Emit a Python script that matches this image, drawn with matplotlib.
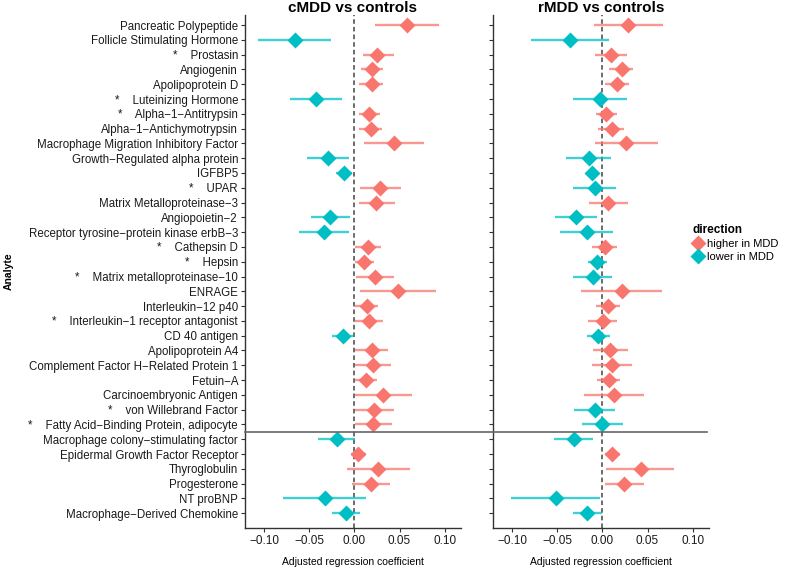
import numpy as np
import matplotlib
matplotlib.use('Agg')
import matplotlib.pyplot as plt
from matplotlib.lines import Line2D

plt.rcParams['font.family'] = ['Liberation Sans', 'DejaVu Sans']

# Analytes, top to bottom
analytes = [
    'Pancreatic Polypeptide', 'Follicle Stimulating Hormone', '*    Prostasin',
    'Angiogenin', 'Apolipoprotein D', '*    Luteinizing Hormone',
    '*    Alpha\u22121\u2212Antitrypsin', 'Alpha\u22121\u2212Antichymotrypsin',
    'Macrophage Migration Inhibitory Factor', 'Growth\u2212Regulated alpha protein',
    'IGFBP5', '*    UPAR', 'Matrix Metalloproteinase\u22123', 'Angiopoietin\u22122',
    'Receptor tyrosine\u2212protein kinase erbB\u22123', '*    Cathepsin D',
    '*    Hepsin', '*    Matrix metalloproteinase\u221210', 'ENRAGE',
    'Interleukin\u221212 p40', '*    Interleukin\u22121 receptor antagonist',
    'CD 40 antigen', 'Apolipoprotein A4', 'Complement Factor H\u2212Related Protein 1',
    'Fetuin\u2212A', 'Carcinoembryonic Antigen', '*    von Willebrand Factor',
    '*    Fatty Acid\u2212Binding Protein, adipocyte',
    'Macrophage colony\u2212stimulating factor', 'Epidermal Growth Factor Receptor',
    'Thyroglobulin', 'Progesterone', 'NT proBNP', 'Macrophage\u2212Derived Chemokine',
]

# cMDD vs controls: estimate, lower, upper
c_est = [0.058, -0.066, 0.0255, 0.019, 0.019, -0.042, 0.0165, 0.018, 0.044, -0.0296,
         -0.011, 0.0285, 0.024, -0.0266, -0.0333, 0.0146, 0.011, 0.0228, 0.048, 0.0135,
         0.0165, -0.0127, 0.019, 0.021, 0.0124, 0.032, 0.0217, 0.021, -0.019, 0.004,
         0.0266, 0.0184, -0.0326, -0.009]
c_lo = [0.023, -0.107, 0.0097, 0.007, 0.005, -0.0715, 0.005, 0.005, 0.011, -0.052,
        -0.020, 0.006, 0.005, -0.048, -0.061, 0.001, 0.001, 0.002, 0.006, 0.001,
        0.001, -0.025, 0.001, 0.001, 0.001, 0.001, 0.001, 0.001, -0.040, -0.004,
        -0.008, -0.0026, -0.079, -0.0247]
c_hi = [0.094, -0.026, 0.0435, 0.032, 0.032, -0.014, 0.028, 0.031, 0.0775, -0.0064,
        -0.0026, 0.0517, 0.0453, -0.0052, -0.006, 0.029, 0.0217, 0.0435, 0.090, 0.0266,
        0.032, 0.0, 0.037, 0.041, 0.0247, 0.064, 0.044, 0.0416, 0.0004, 0.0124,
        0.062, 0.039, 0.0127, 0.0067]

# rMDD vs controls: estimate, lower, upper
r_est = [0.0287, -0.036, 0.0093, 0.0212, 0.016, -0.0026, 0.0045, 0.0104, 0.026, -0.0149,
         -0.011, -0.0086, 0.0067, -0.029, -0.0168, 0.0026, -0.0056, -0.0104, 0.0212, 0.0067,
         0.0005, -0.0048, 0.0086, 0.0104, 0.0074, 0.013, -0.0086, -0.0007, -0.0317, 0.0112,
         0.0428, 0.024, -0.051, -0.0168]
r_lo = [-0.0093, -0.079, -0.0086, 0.0074, 0.0026, -0.0328, -0.0074, -0.0045, -0.0086, -0.040,
        -0.016, -0.0328, -0.0149, -0.052, -0.0466, -0.012, -0.016, -0.0328, -0.0235, -0.0074,
        -0.016, -0.0168, -0.0104, -0.012, -0.0056, -0.0205, -0.031, -0.0223, -0.053, 0.0026,
        0.0045, 0.0026, -0.1006, -0.0328]
r_hi = [0.067, 0.0074, 0.027, 0.034, 0.029, 0.027, 0.016, 0.024, 0.0615, 0.010,
        -0.0056, 0.0156, 0.028, -0.0063, 0.0123, 0.016, 0.0056, 0.0112, 0.066, 0.0197,
        0.016, 0.0082, 0.028, 0.0324, 0.0197, 0.0466, 0.0142, 0.0223, -0.0104, 0.0197,
        0.079, 0.0466, -0.0026, 0.0]

titles = ['cMDD vs controls', 'rMDD vs controls']
xticks = [-0.10, -0.05, 0.00, 0.05, 0.10]
xtick_labels = ['\u22120.10', '\u22120.05', '0.00', '0.05', '0.10']

col_hi = '#F8766D'
col_lo = '#00BFC4'
W, H = 786, 571

fig = plt.figure(figsize=(W / 100, H / 100), dpi=100, facecolor='w')
top_px, bot_px, pw = 15, 528, 216
ax1 = fig.add_axes([245 / W, 1 - bot_px / H, pw / W, (bot_px - top_px) / H])
ax2 = fig.add_axes([493 / W, 1 - bot_px / H, pw / W, (bot_px - top_px) / H])

y = np.arange(len(analytes))
for ax, est, lo, hi, title in [(ax1, c_est, c_lo, c_hi, titles[0]),
                               (ax2, r_est, r_lo, r_hi, titles[1])]:
    est = np.array(est)
    ax.axvline(0, color='#444444', ls=(0, (3, 2)), lw=1.1, zorder=1)
    for i in range(len(est)):
        c = col_hi if est[i] >= 0 else col_lo
        ax.plot([lo[i], hi[i]], [y[i], y[i]], color=c, lw=1.7, alpha=0.75,
                solid_capstyle='butt', zorder=2)
        ax.plot(est[i], y[i], marker='D', ms=8.5, color=c, mec='none', zorder=3)
    ax.set_xlim(-0.121, 0.118)
    ax.set_ylim(len(analytes) - 1 + 1.0, -0.68)
    ax.set_yticks(y)
    ax.set_xticks(xticks)
    ax.set_xticklabels(xtick_labels)
    ax.set_title(title, fontsize=11, fontweight='bold', pad=1)
    ax.set_xlabel('Adjusted regression coefficient', fontsize=7.5, labelpad=7)
    for spine in ('top', 'right'):
        ax.spines[spine].set_visible(False)
    for spine in ('left', 'bottom'):
        ax.spines[spine].set_color('#333333')
        ax.spines[spine].set_linewidth(1.0)
    ax.tick_params(axis='both', length=3, width=0.8, color='#333333',
                   labelsize=8.5, labelcolor='#1a1a1a', pad=2)

ax1.set_yticklabels(analytes, fontsize=8.3)
ax2.set_yticklabels([])
ax1.set_ylabel('Analyte', fontsize=7.5, fontweight='bold')
ax1.yaxis.set_label_coords(-(245 - 14) / pw, 0.5)

# horizontal separator across both panels
sep_y = 27.5
yy = ax1.transData.transform((0, sep_y))[1] / H
fig.add_artist(Line2D([245 / W, 707 / W], [yy, yy], color='#666666', lw=1.2,
                      transform=fig.transFigure))

# legend
handles = [Line2D([], [], marker='D', ms=8, color=col_hi, ls='none', mec='none'),
           Line2D([], [], marker='D', ms=8, color=col_lo, ls='none', mec='none')]
leg = fig.legend(handles, ['higher in MDD', 'lower in MDD'], title='direction',
                 loc='upper left', bbox_to_anchor=(688 / W, 1 - 220 / H),
                 frameon=False, fontsize=8, title_fontsize=8.5,
                 handlelength=1.0, handletextpad=0.3, labelspacing=0.25,
                 borderaxespad=0)
leg.get_title().set_fontweight('bold')
leg._legend_box.align = 'left'

fig.savefig('out.png', dpi=100)
